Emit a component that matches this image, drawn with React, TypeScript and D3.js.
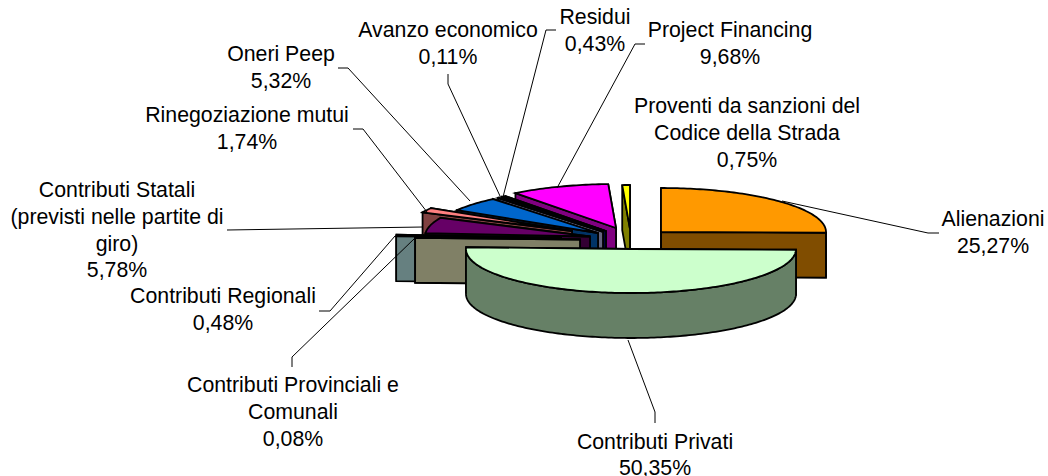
import React from "react";
import * as d3 from "d3";

const categories = [
  "Alienazioni", "Contributi Privati", "Contributi Provinciali e Comunali", "Contributi Regionali",
  "Contributi Statali (previsti nelle partite di giro)", "Rinegoziazione mutui", "Oneri Peep",
  "Avanzo economico", "Residui", "Project Financing", "Proventi da sanzioni del Codice della Strada",
];
const shares = [25.27, 50.35, 0.08, 0.48, 5.78, 1.74, 5.32, 0.11, 0.43, 9.68, 0.75];
const valueLabels = ["25,27%", "50,35%", "0,08%", "0,48%", "5,78%", "1,74%", "5,32%", "0,11%", "0,43%", "9,68%", "0,75%"];
const labelLines = [
  ["Alienazioni"], ["Contributi Privati"], ["Contributi Provinciali e", "Comunali"], ["Contributi Regionali"],
  ["Contributi Statali", "(previsti nelle partite di", "giro)"], ["Rinegoziazione mutui"], ["Oneri Peep"],
  ["Avanzo economico"], ["Residui"], ["Project Financing"], ["Proventi da sanzioni del", "Codice della Strada"],
];

// Layout (separate from the data)
const topColors = ["#FF9900", "#CCFFCC", "#FFFFCC", "#CCFFFF", "#660066", "#FF8080", "#0066CC", "#CCCCFF", "#000080", "#FF00FF", "#FFFF00"];
const sideColors = ["#804D00", "#668066", "#808066", "#668080", "#330033", "#804040", "#003366", "#666680", "#000040", "#800080", "#808000"];
const centers: [number, number][] = [
  [661, 232], [631, 249], [580, 239.5], [561, 238], [590, 236.5], [572, 231], [598, 233], [603, 232], [606, 231], [616, 228], [630, 229],
];
const drawOrder = [9, 10, 8, 7, 6, 5, 4, 3, 2, 0, 1];
const labelAnchors: [number, number][] = [
  [993, 226], [655, 448.5], [293, 392], [223, 303], [117, 197], [247, 122], [281, 61], [448, 37], [595, 24], [730, 37], [747, 113],
];
const leaders: ([number, number][] | null)[] = [
  [[939, 233], [928, 233], [782, 201]],
  [[655, 423], [655, 412], [628, 340]],
  [[292, 367], [292, 357], [415, 238]],
  [[319, 311], [330, 311], [395, 236]],
  [[227, 230], [423, 227]],
  [[353, 129], [363, 129], [427, 212]],
  [[338, 68], [348, 68], [470, 201]],
  [[448, 74], [448, 84], [500, 196]],
  [[556, 30], [546, 30], [503, 197]],
  [[645, 44], [635, 44], [557, 188]],
  null,
];
const RX = 165, RY = 44, DEPTH = 45, LINE_H = 26.8;

const arcs = d3.pie<number>().sort(null).startAngle(0).endAngle(2 * Math.PI)(shares);

const rimPoint = (c: [number, number], a: number, dy = 0): [number, number] => [
  c[0] + RX * Math.sin(a),
  c[1] - RY * Math.cos(a) + dy,
];
const sweep = (c: [number, number], a0: number, a1: number, dy = 0): [number, number][] => {
  const n = Math.max(2, Math.ceil(Math.abs(a1 - a0) / 0.02));
  return d3.range(n + 1).map((i) => rimPoint(c, a0 + ((a1 - a0) * i) / n, dy));
};
const line = d3.line();
const closed = (pts: [number, number][]) => (line(pts) as string) + "Z";

function Slice({ i }: { i: number }) {
  const c = centers[i];
  const { startAngle: a0, endAngle: a1 } = arcs[i];
  const cutFace = (a: number) => {
    const p = rimPoint(c, a);
    return closed([c, p, [p[0], p[1] + DEPTH], [c[0], c[1] + DEPTH]]);
  };
  const w0 = Math.max(a0, Math.PI / 2);
  const w1 = Math.min(a1, (3 * Math.PI) / 2);
  const common = { stroke: "#000", strokeWidth: 1.8, strokeLinejoin: "miter" as const };
  return (
    <g>
      <path d={cutFace(a1)} fill={sideColors[i]} {...common} />
      <path d={cutFace(a0)} fill={sideColors[i]} {...common} />
      {w1 > w0 && (
        <path
          d={closed([...sweep(c, w0, w1), ...sweep(c, w1, w0, DEPTH)])}
          fill={sideColors[i]}
          {...common}
        />
      )}
      <path d={closed([c, ...sweep(c, a0, a1)])} fill={topColors[i]} {...common} />
    </g>
  );
}

export default function App() {
  return (
    <svg
      width={1048}
      height={476}
      style={{ position: "absolute", left: 0, top: 0, background: "#fff" }}
      fontFamily="'Liberation Sans', Arial, sans-serif"
      fontSize={21.3}
      role="img"
      aria-label={categories.join(", ")}
    >
      {drawOrder.map((i) => (
        <Slice key={i} i={i} />
      ))}
      {leaders.map((pts, i) =>
        pts ? <path key={i} d={line(pts) as string} fill="none" stroke="#000" strokeWidth={1} /> : null
      )}
      {categories.map((_, i) => {
        const [x, y] = labelAnchors[i];
        return (
          <text key={i} x={x} y={y} textAnchor="middle" fill="#000">
            {[...labelLines[i], valueLabels[i]].map((t, k) => (
              <tspan key={k} x={x} y={y + k * LINE_H}>
                {t}
              </tspan>
            ))}
          </text>
        );
      })}
    </svg>
  );
}
